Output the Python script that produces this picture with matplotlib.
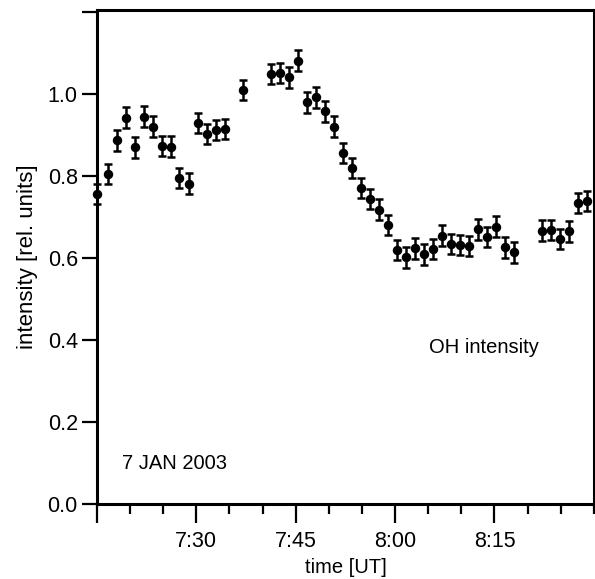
import matplotlib
matplotlib.use("Agg")
import matplotlib.pyplot as plt
from matplotlib.ticker import FixedLocator, MultipleLocator

plt.rcParams['font.family'] = ['Liberation Sans', 'DejaVu Sans']

# time in minutes after 7:00 UT
times = [15.05, 16.61, 17.97, 19.37, 20.73, 22.09, 23.40, 24.75, 26.11, 27.41,
         28.82, 30.18, 31.54, 32.99, 34.30, 37.06, 41.23, 42.59, 43.95, 45.35,
         46.71, 48.02, 49.37, 50.81, 52.09, 53.49, 54.80, 56.16, 57.51, 58.87,
         60.27, 61.63, 63.02, 64.34, 65.70, 67.06, 68.44, 69.77, 71.13, 72.52,
         73.84, 75.23, 76.59, 77.94, 82.16, 83.55, 84.88, 86.27, 87.62, 88.95]
intensity = [0.757, 0.805, 0.887, 0.943, 0.870, 0.945, 0.921, 0.874, 0.872, 0.796,
             0.782, 0.930, 0.903, 0.912, 0.915, 1.010, 1.049, 1.051, 1.041, 1.082,
             0.980, 0.992, 0.958, 0.921, 0.857, 0.820, 0.771, 0.744, 0.718, 0.681,
             0.620, 0.602, 0.624, 0.609, 0.622, 0.655, 0.635, 0.632, 0.630, 0.670,
             0.651, 0.677, 0.626, 0.614, 0.667, 0.668, 0.646, 0.665, 0.735, 0.739]
error = 0.025

x_major = [15, 30, 45, 60, 75]
x_labels = ["", "7:30", "7:45", "8:00", "8:15"]
y_major = [0.0, 0.2, 0.4, 0.6, 0.8, 1.0, 1.2]
y_labels = ["0.0", "0.2", "0.4", "0.6", "0.8", "1.0", ""]

fig = plt.figure(figsize=(5.95, 5.79), dpi=100)
ax = fig.add_axes([0.163, 0.1295, 0.835, 0.853])

ax.errorbar(times, intensity, yerr=error, fmt='o', color='black',
            markersize=5.8, elinewidth=1.8, capsize=2.6, capthick=1.8,
            clip_on=False, zorder=3)

ax.set_xlim(15, 90)
ax.set_ylim(0, 1.205)

ax.xaxis.set_major_locator(FixedLocator(x_major))
ax.set_xticklabels(x_labels)
ax.xaxis.set_minor_locator(MultipleLocator(5))
ax.yaxis.set_major_locator(FixedLocator(y_major))
ax.set_yticklabels(y_labels)

for s in ax.spines.values():
    s.set_linewidth(2.2)

ax.tick_params(axis='x', which='major', length=13.5, width=1.6, labelsize=15.5, pad=6, direction='out')
ax.tick_params(axis='x', which='minor', length=7.2, width=1.6, direction='out')
ax.tick_params(axis='y', which='major', length=10.8, width=1.6, labelsize=15.5, pad=3, direction='out')

ax.set_xlabel("time [UT]", fontsize=14.5, labelpad=4)
ax.set_ylabel("intensity [rel. units]", fontsize=16, labelpad=7)

ax.text(0.778, 0.316, "OH intensity", transform=ax.transAxes, fontsize=14.5,
        ha='center', va='center')
ax.text(0.05, 0.083, "7 JAN 2003", transform=ax.transAxes, fontsize=14.5,
        ha='left', va='center')

fig.savefig("out.png", dpi=100)
